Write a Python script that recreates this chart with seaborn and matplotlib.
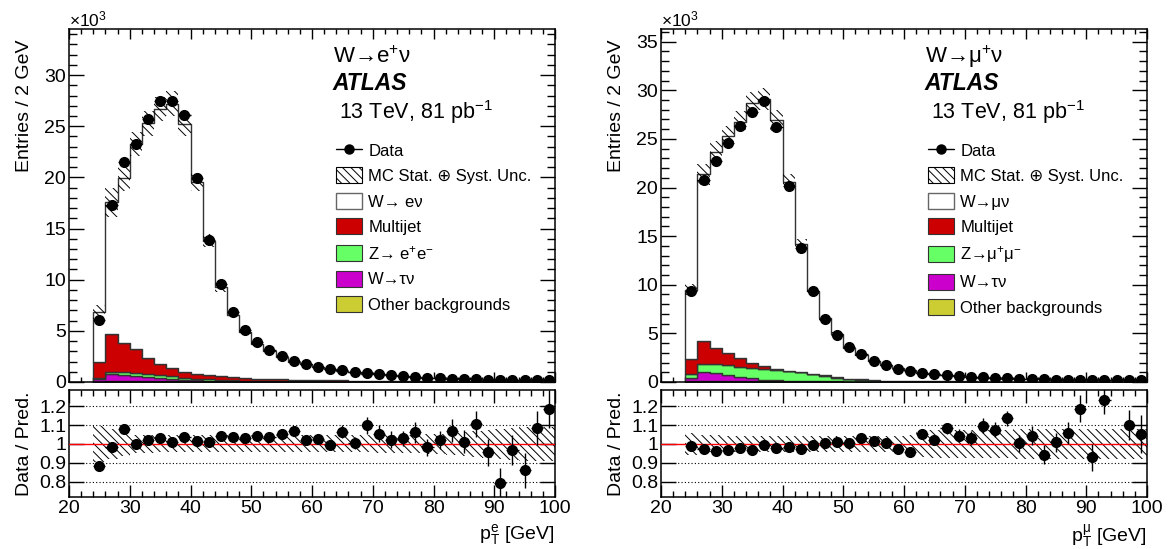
import numpy as np
import pandas as pd
import matplotlib
matplotlib.use("Agg")
import matplotlib.pyplot as plt
from matplotlib.lines import Line2D
from matplotlib.patches import Patch
from matplotlib.ticker import MultipleLocator, FixedLocator
import seaborn as sns

# 2 GeV bins from 24 to 100 GeV
bin_edges = np.arange(24, 101, 2)
bin_centers = bin_edges[:-1] + 1

# ---- electron channel, entries in units of 10^3 ----
data_e = [6.1, 17.3, 21.5, 23.3, 25.7, 27.5, 27.5, 26.1, 19.9, 13.9, 9.6, 6.8, 5.05, 3.9, 3.1,
          2.55, 2.05, 1.8, 1.5, 1.27, 1.17, 1.0, 0.91, 0.78, 0.68, 0.59, 0.52, 0.42, 0.39, 0.33,
          0.29, 0.26, 0.23, 0.2, 0.2, 0.18, 0.16, 0.2]
w_e = [4.85, 12.89, 16.17, 20.05, 22.92, 24.97, 25.8, 24.2, 18.72, 13.12, 8.66, 6.11, 4.49, 3.41,
       2.71, 2.15, 1.69, 1.56, 1.27, 1.12, 0.95, 0.85, 0.70, 0.61, 0.55, 0.47, 0.39, 0.34, 0.29,
       0.23, 0.21, 0.19, 0.18, 0.16, 0.14, 0.14, 0.12, 0.11]
multijet_e = [1.58, 3.71, 2.83, 2.29, 1.60, 1.08, 0.85, 0.64, 0.48, 0.43, 0.39, 0.30, 0.26, 0.22,
              0.20, 0.18, 0.16, 0.14, 0.13, 0.12, 0.11, 0.10, 0.09, 0.09, 0.08, 0.07, 0.07, 0.06,
              0.06, 0.05, 0.05, 0.05, 0.04, 0.04, 0.04, 0.03, 0.03, 0.03]
zll_e = [0.09, 0.17, 0.23, 0.29, 0.26, 0.26, 0.25, 0.14, 0.13, 0.12, 0.09, 0.07, 0.06, 0.05, 0.04,
         0.04, 0.03, 0.03, 0.03, 0.02, 0.02, 0.02, 0.02, 0.02, 0.01, 0.01, 0.01, 0.01, 0.01, 0.01,
         0.01, 0.01, 0.01, 0.01, 0.01, 0.01, 0.01, 0.01]
taunu_e = [0.29, 0.70, 0.64, 0.55, 0.46, 0.34, 0.25, 0.18, 0.13, 0.10, 0.08, 0.06, 0.05, 0.04,
           0.03, 0.03, 0.02, 0.02, 0.02, 0.01, 0.01, 0.01, 0.01, 0.01, 0.01, 0.01, 0.01, 0.01,
           0.01, 0.01, 0.0, 0.0, 0.0, 0.0, 0.0, 0.0, 0.0, 0.0]
other_e = [0.04, 0.08, 0.08, 0.07, 0.06, 0.05, 0.05, 0.04, 0.04, 0.03, 0.03, 0.03, 0.02, 0.02,
           0.02, 0.02, 0.02, 0.01, 0.01, 0.01, 0.01, 0.01, 0.01, 0.01, 0.01, 0.01, 0.01, 0.01,
           0.01, 0.01, 0.01, 0.01, 0.01, 0.01, 0.01, 0.01, 0.01, 0.01]
ratio_e = [0.882, 0.982, 1.079, 1.0, 1.021, 1.03, 1.012, 1.035, 1.018, 1.009, 1.04, 1.035, 1.032,
           1.044, 1.035, 1.053, 1.07, 1.023, 1.026, 0.995, 1.065, 1.005, 1.1, 1.053, 1.023, 1.03,
           1.061, 0.982, 1.021, 1.07, 1.012, 1.105, 0.956, 0.793, 0.968, 0.86, 1.082, 1.184]
ratio_err_e = [0.01, 0.01, 0.01, 0.01, 0.01, 0.01, 0.01, 0.01, 0.01, 0.01, 0.01, 0.01, 0.01,
               0.012, 0.012, 0.012, 0.015, 0.02, 0.02, 0.025, 0.035, 0.03, 0.045, 0.045, 0.045,
               0.04, 0.055, 0.045, 0.05, 0.06, 0.06, 0.07, 0.07, 0.08, 0.08, 0.09, 0.09, 0.1]
unc_e = [0.095, 0.08, 0.065, 0.05, 0.048, 0.045, 0.045, 0.045, 0.045, 0.045, 0.045, 0.045, 0.045,
         0.045, 0.045, 0.045, 0.045, 0.045, 0.045, 0.045, 0.045, 0.045, 0.045, 0.05, 0.05, 0.05,
         0.05, 0.055, 0.055, 0.06, 0.065, 0.07, 0.075, 0.08, 0.085, 0.09, 0.09, 0.09]

# ---- muon channel ----
data_m = [9.4, 20.8, 22.7, 24.6, 26.3, 27.8, 28.9, 26.2, 20.2, 13.8, 9.4, 6.5, 4.84, 3.56, 2.87,
          2.18, 1.73, 1.35, 1.15, 0.97, 0.86, 0.74, 0.62, 0.55, 0.48, 0.42, 0.37, 0.33, 0.3, 0.27,
          0.25, 0.24, 0.23, 0.2, 0.2, 0.19, 0.17, 0.16]
w_m = [7.15, 17.17, 20.18, 22.33, 24.36, 26.71, 27.48, 25.55, 19.38, 13.11, 8.56, 5.9, 4.42, 3.2,
       2.52, 1.96, 1.57, 1.26, 1.09, 0.87, 0.75, 0.63, 0.54, 0.46, 0.41, 0.36, 0.31, 0.27, 0.25,
       0.23, 0.21, 0.19, 0.17, 0.16, 0.15, 0.14, 0.13, 0.12]
multijet_m = [1.49, 2.28, 1.66, 1.24, 0.83, 0.48, 0.27, 0.14, 0.10, 0.08, 0.06, 0.05, 0.04, 0.03,
              0.03, 0.02, 0.02, 0.02, 0.02, 0.01, 0.01, 0.01, 0.01, 0.01, 0.01, 0.01, 0.01, 0.01,
              0.01, 0.01, 0.01, 0.01, 0.01, 0.01, 0.01, 0.01, 0.01, 0.01]
zll_m = [0.41, 0.86, 0.86, 1.00, 1.04, 1.11, 1.11, 1.04, 0.95, 0.88, 0.70, 0.55, 0.38, 0.26, 0.18,
         0.13, 0.10, 0.08, 0.06, 0.05, 0.04, 0.04, 0.03, 0.03, 0.02, 0.02, 0.02, 0.02, 0.01, 0.01,
         0.01, 0.01, 0.01, 0.01, 0.01, 0.01, 0.01, 0.01]
taunu_m = [0.38, 0.89, 0.83, 0.61, 0.45, 0.29, 0.16, 0.10, 0.07, 0.05, 0.04, 0.03, 0.03, 0.02,
           0.02, 0.02, 0.01, 0.01, 0.01, 0.01, 0.01, 0.01, 0.01, 0.01, 0.0, 0.0, 0.0, 0.0, 0.0,
           0.0, 0.0, 0.0, 0.0, 0.0, 0.0, 0.0, 0.0, 0.0]
other_m = [0.07, 0.15, 0.14, 0.12, 0.10, 0.09, 0.08, 0.07, 0.06, 0.05, 0.04, 0.04, 0.03, 0.03,
           0.03, 0.02, 0.02, 0.02, 0.02, 0.01, 0.01, 0.01, 0.01, 0.01, 0.01, 0.01, 0.01, 0.01,
           0.01, 0.01, 0.01, 0.01, 0.01, 0.01, 0.01, 0.01, 0.01, 0.01]
ratio_m = [0.991, 0.973, 0.965, 0.97, 0.977, 0.968, 0.995, 0.977, 0.984, 0.975, 0.995, 1.004, 1.012,
           1.007, 1.032, 1.014, 1.004, 0.972, 0.959, 1.053, 1.023, 1.083, 1.044, 1.032, 1.097,
           1.076, 1.136, 1.004, 1.044, 0.943, 1.009, 1.058, 1.186, 0.929, 1.23, np.nan, 1.1, 1.053]
ratio_err_m = [0.01, 0.01, 0.01, 0.01, 0.01, 0.01, 0.01, 0.01, 0.01, 0.01, 0.01, 0.01, 0.01, 0.01,
               0.01, 0.01, 0.01, 0.015, 0.02, 0.025, 0.025, 0.03, 0.035, 0.035, 0.04, 0.04, 0.04,
               0.045, 0.05, 0.05, 0.05, 0.06, 0.07, 0.07, 0.07, 0.0, 0.08, 0.1]
unc_m = [0.06, 0.05, 0.045, 0.04, 0.04, 0.04, 0.04, 0.04, 0.04, 0.04, 0.04, 0.04, 0.04, 0.04, 0.04,
         0.04, 0.04, 0.04, 0.05, 0.07, 0.075, 0.075, 0.075, 0.075, 0.075, 0.075, 0.075, 0.08, 0.08,
         0.08, 0.08, 0.08, 0.08, 0.08, 0.08, 0.08, 0.08, 0.08]

palette = {'sig': 'white', 'mj': '#cc0000', 'zll': '#66ff66', 'tau': '#cc00cc', 'other': '#cccc33'}
stack_order = ['sig', 'mj', 'zll', 'tau', 'other']  # top to bottom
HATCH = '\\\\\\\\'

sns.set_theme(style='ticks', rc={
    'axes.edgecolor': 'black', 'axes.linewidth': 1.1, 'xtick.color': 'black',
    'ytick.color': 'black', 'text.color': 'black', 'axes.labelcolor': 'black',
    'hatch.linewidth': 0.7, 'hatch.color': 'black'})
plt.rcParams['font.family'] = ['Liberation Sans', 'DejaVu Sans']
plt.rcParams['mathtext.fontset'] = 'custom'
plt.rcParams['mathtext.rm'] = 'Liberation Sans'
plt.rcParams['mathtext.it'] = 'Liberation Sans:italic'
plt.rcParams['mathtext.bf'] = 'Liberation Sans:bold'


def draw_channel(ax, rax, comps, data, ratio, ratio_err, unc, ymax, title, sig_label, z_label, xlabel):
    stack = pd.DataFrame({
        'pt': np.tile(bin_centers, len(stack_order)),
        'entries': np.concatenate([comps[k] for k in stack_order]),
        'process': np.repeat(stack_order, len(bin_centers)),
    })
    sns.histplot(data=stack, x='pt', weights='entries', hue='process', hue_order=stack_order,
                 palette=palette, binwidth=2, binrange=(bin_edges[0], bin_edges[-1]),
                 multiple='stack', element='step', fill=True,
                 alpha=1, edgecolor='#333333', linewidth=1.0, legend=False, ax=ax)

    total = np.sum([comps[k] for k in stack_order], axis=0)
    unc = np.array(unc)
    ax.bar(bin_centers, 2 * unc * total, bottom=total * (1 - unc), width=2, fill=False,
           hatch=HATCH, linewidth=0, edgecolor='black', zorder=3)
    ax.errorbar(bin_centers, data, xerr=1, fmt='o', color='black', ms=7, lw=1.0,
                capsize=0, zorder=5)

    ax.set_xlim(20, 100)
    ax.set_ylim(0, ymax)
    ax.xaxis.set_major_locator(MultipleLocator(10))
    ax.xaxis.set_minor_locator(MultipleLocator(2))
    ax.yaxis.set_major_locator(MultipleLocator(5))
    ax.yaxis.set_minor_locator(MultipleLocator(1))
    ax.tick_params(axis='x', labelbottom=False)
    ax.tick_params(which='both', direction='in', top=True, right=True, labelsize=14, pad=2)
    ax.tick_params(axis='y', which='major', length=11, width=1)
    ax.tick_params(axis='y', which='minor', length=5.5, width=1)
    ax.tick_params(axis='x', which='major', length=7, width=1)
    ax.tick_params(axis='x', which='minor', length=3.5, width=1)
    ax.set_xlabel('')
    ax.set_ylabel('Entries / 2 GeV', fontsize=14, loc='top')
    ax.yaxis.set_label_coords(-0.075, 1.0 - 0.03)
    ax.text(0.0, 1.0, '×10$^{3}$', transform=ax.transAxes, ha='left', va='bottom', fontsize=12.5)

    ax.text(0.543, 0.92, title, transform=ax.transAxes, fontsize=16, va='center')
    ax.text(0.543, 0.847, 'ATLAS', transform=ax.transAxes, fontsize=16.5, va='center',
            fontweight='bold', fontstyle='italic')
    ax.text(0.556, 0.765, '13 TeV, 81 pb$^{-1}$', transform=ax.transAxes, fontsize=15.5,
            va='center')

    handles = [
        Line2D([], [], color='black', marker='o', ms=6.5, lw=1),
        Patch(facecolor='white', edgecolor='black', hatch=HATCH, lw=0.8),
        Patch(facecolor='white', edgecolor='#666666', lw=1),
        Patch(facecolor=palette['mj'], edgecolor='#333333', lw=0.8),
        Patch(facecolor=palette['zll'], edgecolor='#333333', lw=0.8),
        Patch(facecolor=palette['tau'], edgecolor='#333333', lw=0.8),
        Patch(facecolor=palette['other'], edgecolor='#333333', lw=0.8),
    ]
    labels = ['Data', 'MC Stat. ⊕ Syst. Unc.', sig_label, 'Multijet', z_label, 'W→τν',
              'Other backgrounds']
    ax.legend(handles, labels, loc='upper left', bbox_to_anchor=(0.549, 0.68), frameon=False,
              fontsize=12, handlelength=1.6, handleheight=1.1, handletextpad=0.35,
              labelspacing=0.53, borderpad=0, borderaxespad=0)

    # ratio panel
    for y in [0.8, 0.9, 1.1, 1.2]:
        rax.axhline(y, color='black', ls=(0, (1, 2)), lw=0.8, zorder=1)
    rax.bar(bin_centers, 2 * unc, bottom=1 - unc, width=2, fill=False, hatch=HATCH,
            linewidth=0, edgecolor='black', zorder=2)
    rax.axhline(1.0, color='red', lw=1, zorder=3)
    rax.errorbar(bin_centers, ratio, xerr=1, yerr=ratio_err, fmt='o', color='black', ms=7,
                 lw=1.0, capsize=0, zorder=5)
    rax.set_xlim(20, 100)
    rax.set_ylim(0.72, 1.285)
    rax.xaxis.set_major_locator(MultipleLocator(10))
    rax.xaxis.set_minor_locator(MultipleLocator(2))
    rax.yaxis.set_major_locator(FixedLocator([0.8, 0.9, 1.0, 1.1, 1.2]))
    rax.set_yticklabels(['0.8', '0.9', '1', '1.1', '1.2'])
    rax.tick_params(which='both', direction='in', top=True, right=True, labelsize=14, pad=2)
    rax.tick_params(axis='y', which='major', length=11, width=1)
    rax.tick_params(axis='x', which='major', length=9, width=1)
    rax.tick_params(axis='x', which='minor', length=4.5, width=1)
    rax.set_ylabel('Data / Pred.', fontsize=14)
    rax.yaxis.set_label_coords(-0.075, 0.5)
    rax.set_xlabel(xlabel, fontsize=14, loc='right')


fig = plt.figure(figsize=(11.72, 5.49), dpi=100)
ax_e = fig.add_axes([69 / 1172, 167 / 549, 486 / 1172, 353 / 549])
rax_e = fig.add_axes([69 / 1172, 52 / 549, 486 / 1172, 107 / 549])
ax_m = fig.add_axes([661 / 1172, 167 / 549, 486 / 1172, 353 / 549])
rax_m = fig.add_axes([661 / 1172, 52 / 549, 486 / 1172, 107 / 549])

draw_channel(ax_e, rax_e,
             {'sig': w_e, 'mj': multijet_e, 'zll': zll_e, 'tau': taunu_e, 'other': other_e},
             data_e, ratio_e, ratio_err_e, unc_e, 34.5,
             'W→e$^{+}$ν', 'W→ eν', 'Z→ e$^{+}$e$^{-}$', 'p$_{\\mathrm{T}}^{\\mathrm{e}}$ [GeV]')
draw_channel(ax_m, rax_m,
             {'sig': w_m, 'mj': multijet_m, 'zll': zll_m, 'tau': taunu_m, 'other': other_m},
             data_m, ratio_m, ratio_err_m, unc_m, 36.3,
             'W→μ$^{+}$ν', 'W→μν', 'Z→μ$^{+}$μ$^{-}$', 'p$_{\\mathrm{T}}^{\\mathrm{μ}}$ [GeV]')

fig.savefig('out.png', dpi=100)
